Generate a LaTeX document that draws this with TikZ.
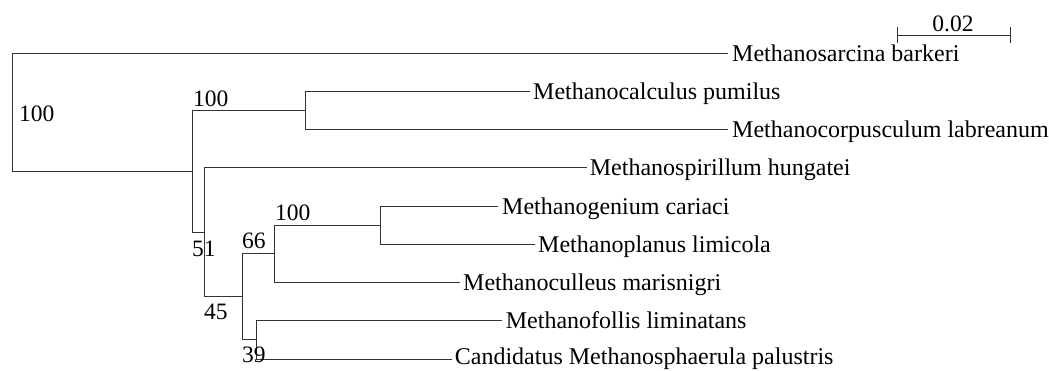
\documentclass[tikz,border=0pt]{standalone}
\usepackage{fontspec}
\setmainfont{Liberation Serif}
\begin{document}
\begin{tikzpicture}[x=1pt,y=-1pt,
  branch/.style={draw=black!80,line width=0.9pt},
  leaf/.style={anchor=base west,inner sep=0pt,text=black,font=\fontsize{24}{28}\selectfont},
  boot/.style={anchor=base west,inner sep=0pt,text=black,font=\fontsize{23.5}{28}\selectfont},
  scalelbl/.style={anchor=base,inner sep=0pt,text=black,font=\fontsize{23.5}{28}\selectfont}]
\useasboundingbox[fill=white] (0,0) rectangle (1049,370);
% internal nodes
\coordinate (R) at (12.7,112.2);
\coordinate (A) at (192,171.35);
\coordinate (B) at (305.7,110.4);
\coordinate (C) at (204,232.3);
\coordinate (D) at (242.3,296.85);
\coordinate (E) at (274.3,253.8);
\coordinate (F) at (380.7,225.1);
\coordinate (G) at (256,339.9);
% leaf line ends
\coordinate (l1) at (728,53);
\coordinate (l2) at (530,91.25);
\coordinate (l3) at (728,129.5);
\coordinate (l4) at (586.7,167.75);
\coordinate (l5) at (498,206);
\coordinate (l6) at (535,244.25);
\coordinate (l7) at (460,282.5);
\coordinate (l8) at (501.7,320.75);
\coordinate (l9) at (451.7,359);
% leaf labels
\node[leaf] (t1) at ([shift={(4,8)}]l1) {Methanosarcina barkeri};
\node[leaf] (t2) at ([shift={(3,8.5)}]l2) {Methanocalculus pumilus};
\node[leaf] (t3) at ([shift={(4,8)}]l3) {Methanocorpusculum labreanum};
\node[leaf] (t4) at ([shift={(3,8)}]l4) {Methanospirillum hungatei};
\node[leaf] (t5) at ([shift={(4,8)}]l5) {Methanogenium cariaci};
\node[leaf] (t6) at ([shift={(3,8)}]l6) {Methanoplanus limicola};
\node[leaf] (t7) at ([shift={(3,8)}]l7) {Methanoculleus marisnigri};
\node[leaf] (t8) at ([shift={(4,8)}]l8) {Methanofollis liminatans};
\node[leaf] (t9) at ([shift={(3,5.5)}]l9) {Candidatus Methanosphaerula palustris};
% branches
\draw[branch] (R) |- (l1);
\draw[branch] (R) |- (A);
\draw[branch] (A) |- (B);
\draw[branch] (A) |- (C);
\draw[branch] (B) |- (l2);
\draw[branch] (B) |- (l3);
\draw[branch] (C) |- (l4);
\draw[branch] (C) |- (D);
\draw[branch] (D) |- (E);
\draw[branch] (D) |- (G);
\draw[branch] (E) |- (F);
\draw[branch] (E) |- (l7);
\draw[branch] (F) |- (l5);
\draw[branch] (F) |- (l6);
\draw[branch] (G) |- (l8);
\draw[branch] (G) |- (l9);
% bootstrap values
\node[boot] (bR) at (19,121.7) {100};
\node[boot] (bB) at (193,106) {100};
\node[boot] (bC) at (192,256.7) {51};
\node[boot] (bD) at (204,319) {45};
\node[boot] (bE) at (242,248) {66};
\node[boot] (bF) at (275,220.7) {100};
\node[boot] (bG) at (242,362.7) {39};
% scale bar
\coordinate (s1) at (897.3,35);
\coordinate (s2) at (1010,35);
\draw[branch] (s1) -- (s2);
\draw[branch] ([yshift=-8]s1) -- ([yshift=8]s1);
\draw[branch] ([yshift=-8]s2) -- ([yshift=8]s2);
\node[scalelbl] (sl) at (953,31.5) {0.02};
\end{tikzpicture}
\end{document}
